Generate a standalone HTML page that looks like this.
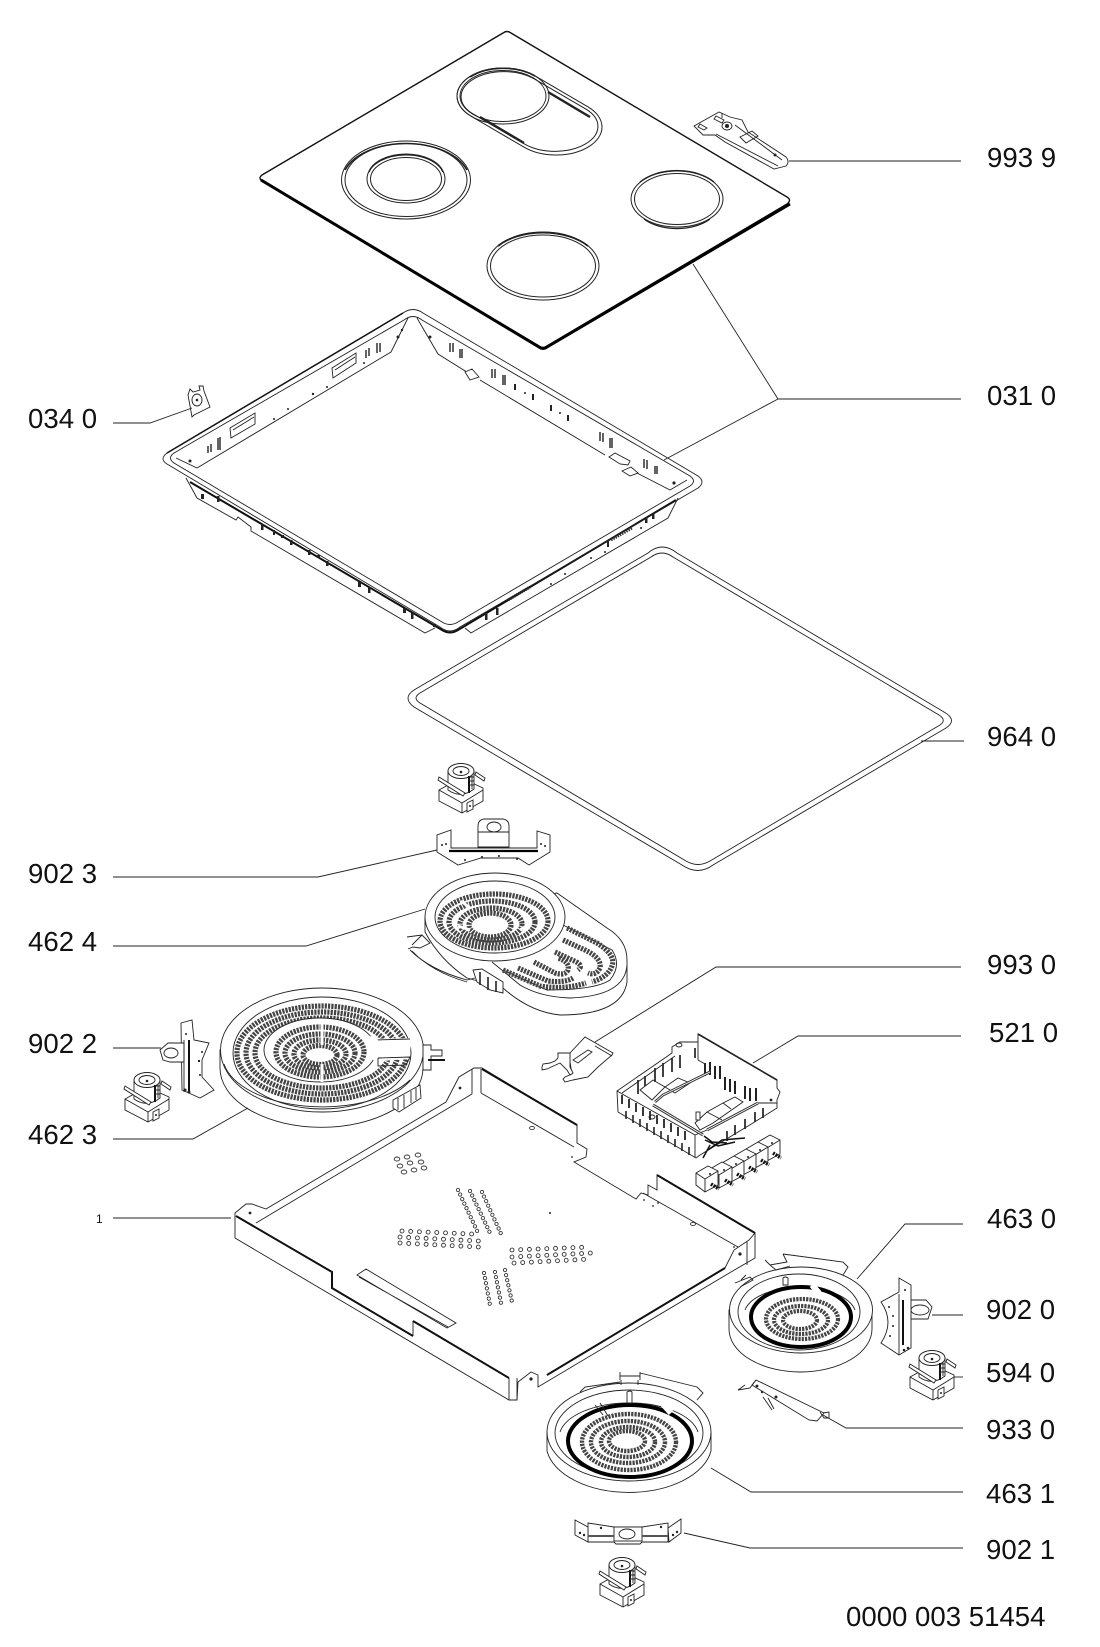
<!DOCTYPE html>
<html><head><meta charset="utf-8"><title>Exploded parts diagram</title>
<style>
html,body{margin:0;padding:0;background:#fff}
svg{display:block}
.l{fill:none;stroke:#222;stroke-width:.9}
.f{fill:#fff;stroke:#222;stroke-width:.9}
.k{fill:none;stroke:#111;stroke-width:2}
.d{fill:#222;stroke:none}
.c{fill:none;stroke:#444;stroke-width:5.2;stroke-dasharray:2.2 1.1}
.h{fill:none;stroke:#333;stroke-width:5;stroke-linecap:round}
.h2{fill:none;stroke:#fff;stroke-width:3;stroke-linecap:round}
.o{fill:#fff;stroke:#333;stroke-width:.9}
text{font-family:"Liberation Sans",Arial,sans-serif;font-size:27.6px;fill:#111}
</style></head><body>
<svg width="1100" height="1647" viewBox="0 0 1100 1647" xmlns="http://www.w3.org/2000/svg">
<defs>
<g id="sw">
<path class="f" d="M0,27 L22,15 L44,25 L44,38 L23,50 L0,38 Z"/>
<path class="l" d="M0,27 L23,40 L44,27 M23,40 V50"/>
<path class="f" d="M9,8 V27 Q22,36 35,26 V8 Z"/>
<ellipse class="f" cx="22" cy="8" rx="13" ry="7.5"/>
<ellipse class="l" cx="22" cy="8" rx="8" ry="4.5"/>
<circle class="d" cx="22" cy="9" r="1.3"/>
<path class="k" d="M30,13 V30"/><path class="l" d="M33,12 V26 M35,14 H30 M35,18 H30 M35,22 H30"/>
<path class="f" d="M0,14 L26,30 L24,33 L-1,17 Z"/>
<path class="f" d="M37,9 L46,15 L45,18 L36,12 Z"/>
<path class="f" d="M28,40 L34,37 V46 L28,49 Z"/><circle class="d" cx="31" cy="43" r="1"/>
</g>
<g id="tb">
<path class="f" d="M0,8 L12,1 L22,6 L22,20 L9,27 L0,20 Z"/>
<path class="l" d="M0,8 L9,14 L22,6 M9,14 V27"/>
<path d="M15,19 L23,24" stroke="#111" stroke-width="3.5" fill="none" stroke-dasharray="2 1"/>
<circle class="d" cx="14" cy="9" r="1"/>
</g>
</defs>

<!-- glass panel -->
<path d="M503,33 Q507,30 511,33 L787,197 Q792,200 787,204 L547,346 Q543,349 539,346 L262,181 Q258,178 262,175 Z" fill="#fff" stroke="#111" stroke-width="1.4"/>
<path d="M261,180 L539,347 Q543,350 547,347 L790,204" fill="none" stroke="#000" stroke-width="3"/>
<!-- rings -->
<g fill="none" stroke="#222">
<ellipse cx="406" cy="180" rx="64.5" ry="39" stroke-width="1"/><ellipse cx="406" cy="180" rx="61" ry="36.5" stroke-width="1"/>
<path d="M345,170 A64,38 0 0 1 467,170" stroke-width="1.6"/>
<ellipse cx="406" cy="179" rx="39" ry="24" stroke-width="1"/><ellipse cx="406" cy="179" rx="35.5" ry="21.5" stroke-width="1"/>
<path d="M369,172 A38,23 0 0 1 443,172" stroke-width="1.6"/>
<path d="M471.1,116.2 A46,28 0 0 1 534.9,75.8 L587.9,106.8 A46,28 0 0 1 524.1,147.2 Z" stroke-width="1"/>
<path d="M472.5,113.6 A43,25 0 0 1 533.5,78.4 L586.5,109.4 A43,25 0 0 1 525.5,144.6 Z" stroke-width="1"/>
<ellipse cx="503" cy="96" rx="46" ry="28" stroke-width="1"/>
<ellipse cx="503" cy="96" rx="43" ry="25.5" stroke-width="1"/>
<path d="M470,77 A46,28 0 0 1 535,76" stroke-width="1.6"/>
<path d="M548,92 L590,117 M480,117 L524,143" stroke-width="2.4"/>
<ellipse cx="677" cy="199" rx="46" ry="28" stroke-width="1"/><ellipse cx="677" cy="199" rx="42.5" ry="25.5" stroke-width="1"/>
<path d="M640,182 A46,28 0 0 1 714,182 M644,219 A42,25 0 0 0 710,219" stroke-width="1.4"/>
<ellipse cx="543" cy="266" rx="56" ry="34" stroke-width="1"/><ellipse cx="543" cy="266" rx="52.5" ry="31" stroke-width="1"/>
<path d="M498,246 A56,33 0 0 1 588,246" stroke-width="1.8"/>
</g>
<!-- clip 993 9 -->
<path class="f" d="M694,126 L719,112 L730,117 L742,120 L748,132 L786,157 Q790,162 786,166 L774,169 L725,142 L715,135 L703,135 Z"/>
<path class="l" d="M716,134 L778,166 M735,125 L782,160 M700,124 L707,128 L704,130 L698,127 Z M716,116 L724,120 L722,123 L714,119 Z M722,113 V118"/>
<ellipse class="l" cx="727" cy="126" rx="5" ry="4"/><circle class="d" cx="727" cy="126" r="2"/>
<path class="l" d="M740,137 L752,131 L758,136 L746,143 Z"/><circle class="d" cx="775" cy="155" r="1.5"/>

<!-- frame skirt -->
<path class="l" d="M186,478 L197,498 L236,520 L238,517 L251,527 L251,531 L425,633 L435,628 M465,628 L471,633 L668,518 L678,498"/>
<path class="k" d="M190,482 L442,630 Q450,635 458,630 L676,500" stroke-width="1.5"/>
<g class="d">
<rect x="201" y="494" width="3" height="5"/><rect x="217" y="496" width="2.5" height="6"/><rect x="261" y="524" width="2.5" height="6"/><rect x="273" y="530" width="2" height="5"/><rect x="281" y="535" width="3" height="3"/><rect x="290" y="540" width="2.5" height="5"/><rect x="308" y="550" width="2.5" height="5"/><rect x="317" y="555" width="3" height="3"/><rect x="326" y="561" width="2.5" height="5"/><rect x="358" y="582" width="3" height="5"/><rect x="368" y="587" width="2.5" height="6"/><rect x="403" y="608" width="3" height="5"/><rect x="411" y="613" width="2.5" height="6"/><rect x="433" y="624" width="3" height="3"/><rect x="485" y="613" width="2.5" height="7"/><rect x="496" y="608" width="2.5" height="7"/>
<rect x="645" y="517" width="2.5" height="6"/><rect x="652" y="513" width="2.5" height="6"/><circle cx="551" cy="584" r="1"/><circle cx="565" cy="574" r="1"/><circle cx="591" cy="558" r="1"/><circle cx="605" cy="552" r="1"/><circle cx="641" cy="528" r="1"/><rect x="607" y="541" width="2" height="6"/>
</g>
<path d="M508,600 L530,587 M611,540 L632,528" fill="none" stroke="#333" stroke-width="3" stroke-dasharray="1.5 1"/>
<!-- frame rim -->
<path class="l" d="M403,313 Q413,306 423,313 L698,476 Q706,482 698,488 L460,627 Q450,635 440,627 L167,464 Q159,459 167,453 Z" stroke-width="1.2"/>
<path class="l" d="M404,320 Q413,313 422,320 L690,476 Q697,481 690,486 L458,622 Q450,627 442,622 L174,463 Q167,458 174,453 Z"/>
<path d="M167,453 L403,313" fill="none" stroke="#111" stroke-width="1.5"/>
<path class="l" d="M176,458 L197,468 L391,352 L408,318 M417,318 L438,354 L470,374 M480,380 L605,455 M635,472 L670,490 L687,480"/>
<path class="l" d="M230,428 L255,413 V424 L231,438 Z M332,368 L356,353 V363 L333,378 Z M233,430 L254,417 M335,370 L355,357"/>
<g class="d">
<circle cx="190" cy="461" r="1.5"/><circle cx="274" cy="419" r="1"/><circle cx="288" cy="409" r="1"/><circle cx="313" cy="394" r="1.2"/><circle cx="327" cy="387" r="1"/><circle cx="364" cy="363" r="1"/><circle cx="398" cy="337" r="1.5"/><circle cx="402" cy="330" r="1.2"/><circle cx="430" cy="337" r="1.5"/><circle cx="525" cy="393" r="1"/><circle cx="560" cy="413" r="1"/><circle cx="674" cy="483" r="1.6"/>
<rect x="514" y="384" width="2" height="6"/><rect x="532" y="394" width="2" height="6"/><rect x="550" y="405" width="2" height="6"/><rect x="567" y="415" width="2" height="6"/>
</g>
<g fill="none" stroke="#222" stroke-width="1.4">
<path d="M208,446 V453 M211,444 V452 M218,438 V450 M220,437 V450"/>
<path d="M366,350 V358 M369,348 V356 M377,343 V353 M380,343 V352"/>
<path d="M450,343 V352 M453,343 V352 M460,349 V358 M462,349 V358"/>
<path d="M492,369 V378 M495,369 V378 M503,375 V385 M505,375 V385"/>
<path d="M600,432 V441 M603,433 V442 M610,438 V448 M612,438 V448"/>
<path d="M644,459 V468 M647,460 V469 M655,466 V474 M657,466 V474"/>
</g>
<path class="f" d="M465,372 L472,369 L479,377 L470,380 Z M609,457 L615,453 L630,461 L628,465 L620,464 Z M622,471 L631,467 L638,473 L630,476 Z"/>
<!-- clip 034 -->
<path class="f" d="M188,395 L190,389 L193,392 L200,390 L199,386 L203,386 L204,391 L210,407 L194,415 L192,417 Z"/><ellipse class="l" cx="197" cy="400" rx="5" ry="6"/><circle class="d" cx="197" cy="400" r="1.3"/>

<!-- seal -->
<path class="l" d="M648,553 Q662,541 677,553 L944,712 Q958,720 946,728 L713,865 Q698,876 682,865 L414,707 Q402,698 414,690 Z"/>
<path class="l" d="M651,557 Q662,549 673,557 L939,715 Q947,720 940,725 L710,861 Q698,868 686,861 L420,703 Q412,698 420,693 Z"/>

<!-- switches -->
<use href="#sw" x="439" y="763"/><use href="#sw" x="125" y="1072"/><use href="#sw" x="910" y="1350"/><use href="#sw" x="600" y="1557"/>

<!-- bracket 902 3 -->
<path class="f" d="M478,847 V826 Q478,820 484,819 H503 Q509,820 509,826 V847 Z"/><ellipse class="l" cx="494" cy="827" rx="7" ry="5"/>
<path class="l" d="M478,832 H509"/>
<path class="f" d="M437,852 L458,865 L481,858 H518 L529,865 L550,852 V835 L537,831 V848 H451 V830 L437,835 Z"/>
<path d="M449,851 H538" stroke="#000" stroke-width="2.2" fill="none"/>
<g class="d"><circle cx="442" cy="845" r="1"/><circle cx="446" cy="844" r="1"/><circle cx="541" cy="844" r="1"/><circle cx="545" cy="846" r="1"/><circle cx="465" cy="860" r="1"/><circle cx="482" cy="857" r="1"/><circle cx="499" cy="856" r="1"/><circle cx="517" cy="859" r="1"/></g>

<!-- heater 462 4 -->
<path class="f" d="M557,893 L607,928 Q627,940 627,960 V982 Q622,1015 560,1015 Q530,1012 503,988 L467,978 Q440,960 425,932 V917 Z"/>
<path class="l" d="M492,962 L520,985 Q540,997 570,998 Q625,996 627,965"/>
<path class="l" d="M563,925 L612,950 Q622,965 610,980 Q595,990 547,990 L503,970"/>
<path class="c" d="M567,928 L597,943 Q616,955 612,966 Q608,977 592,982"/>
<path class="c" d="M563,940 L585,950 Q602,958 600,968 Q596,976 588,973"/>
<path class="c" d="M555,952 L572,960 Q585,965 578,970"/>
<path class="c" d="M503,970 L540,986 Q565,990 586,983"/>
<path class="c" d="M518,968 L548,981 Q565,983 573,978"/>
<path class="c" d="M534,962 L555,973 Q565,976 568,970 Q570,962 558,958"/>
<ellipse class="f" cx="495" cy="917" rx="70" ry="44"/>
<ellipse class="l" cx="495" cy="917" rx="60" ry="36"/>
<ellipse class="c" cx="494" cy="921" rx="54" ry="27"/>
<ellipse class="c" cx="492" cy="922" rx="43" ry="21"/>
<ellipse class="c" cx="491" cy="924" rx="31" ry="16"/>
<ellipse class="c" cx="490" cy="925" rx="21" ry="12"/>
<path d="M461,901 L470,908 M520,930 L528,925 M458,926 L470,930" stroke="#fff" stroke-width="3" fill="none"/>
<path class="l" d="M407,937 L422,935 L430,943 L420,948 L413,947 L408,949 M422,935 L412,945 M410,950 Q430,970 467,980 L475,978 M412,951 Q432,972 467,982"/>
<path class="f" d="M473,970 L482,969 L503,982 V993 L490,990 L477,982 Z"/><path d="M480,972 V985 M488,977 V990 M496,981 V992" fill="none" stroke="#222" stroke-width="1.6"/>

<!-- heater 462 3 + bracket -->
<path class="f" d="M220,1050 V1068 A101,59 0 0 0 423,1068 V1050 Z"/>
<ellipse class="f" cx="322" cy="1050" rx="101.5" ry="62"/>
<ellipse class="l" cx="322" cy="1053" rx="89" ry="56"/>
<path class="l" d="M224,1064 A100,52 0 0 0 410,1080"/>
<ellipse class="c" cx="322" cy="1053" rx="85" ry="47"/>
<ellipse class="c" cx="322" cy="1053" rx="76" ry="41"/>
<ellipse class="c" cx="322" cy="1053" rx="67" ry="35"/>
<path d="M366,1039 L412,1038 L409,1059 L368,1062 Z" fill="#fff" stroke="none"/>
<path class="l" d="M375,1040 L410,1039 M378,1058 L410,1057 L406,1065 L378,1066 Z"/>
<ellipse class="f" cx="320" cy="1050" rx="56" ry="32"/>
<path d="M368,1035 L378,1040 V1058 L368,1062 Z" fill="#fff" stroke="none"/>
<ellipse class="c" cx="320" cy="1052" rx="44" ry="25"/>
<ellipse class="c" cx="320" cy="1053" rx="35" ry="19"/>
<ellipse class="c" cx="320" cy="1054" rx="26" ry="14"/>
<ellipse class="c" cx="320" cy="1055" rx="17" ry="9.5"/>
<path d="M322,1022 V1045 M322,1064 V1082" stroke="#fff" stroke-width="3" fill="none"/>
<path class="f" d="M423,1045 H431 V1050 H442 V1056 H431 V1070 H423 Z"/><path class="k" d="M428,1060 H445" stroke-width="1.2"/>
<path class="f" d="M393,1100 L420,1085 L421,1098 L399,1112 L393,1108 Z"/>
<path class="l" d="M398,1098 V1110 M404,1095 V1108 M411,1091 V1103 M416,1088 V1100" stroke-width="1.8"/>
<path class="f" d="M181,1023 L192,1020 L194,1040 L209,1043 L202,1060 L202,1077 L214,1090 L200,1098 L182,1090 Z"/>
<path class="f" d="M184,1043 H168 L160,1050 L163,1060 L170,1062 H184 Z"/><ellipse class="l" cx="171" cy="1053" rx="7" ry="5"/>
<path class="k" d="M189,1040 V1092" stroke-width="1.5"/><path class="l" d="M184,1040 V1092"/>
<g class="d"><circle cx="186" cy="1034" r="1"/><circle cx="202" cy="1052" r="1"/><rect x="198" y="1060" width="2" height="2"/><circle cx="200" cy="1075" r="1"/><circle cx="185" cy="1090" r="1.5"/><circle cx="189" cy="1092" r="1.5"/></g>

<!-- tray -->
<path class="f" d="M474,1068 L482,1068 L577,1125 V1143 L587,1149 L586,1157 L574,1162 L636,1199 L641,1193 L648,1195 V1185 L657,1190 V1175 L755,1233 V1258 L731,1272 L538,1387 V1375 L531,1372 L518,1382 L517,1400 L509,1400 L235,1238 V1213 L246,1204 L252,1204 L266,1209 L446,1102 L459,1077 Z"/>
<path class="l" d="M472,1094 L256,1223 M481,1093 L574,1147 M643,1193 L738,1247 M547,1375 L725,1268 L734,1250 L749,1240 L755,1233 M509,1378 V1400 M517,1378 V1400 M472,1069 V1094 M481,1069 V1093 M747,1242 V1265"/>
<path class="l" d="M413,1336 V1321 M332,1272 V1288 L413,1336"/>
<path class="k" d="M236,1216 L332,1272 V1288 L413,1336 M413,1321 L509,1378 M482,1069 L577,1125 M657,1175 L755,1233" stroke-width="1.2"/>
<path class="k" d="M547,1375 L725,1268" stroke-width="1"/>
<path class="l" d="M357,1275 L366,1269 L456,1323 L447,1328 Z M359,1277 L448,1327"/>
<!-- holes -->
<g><ellipse class="o" cx="397" cy="1159" rx="2.8" ry="2"/><ellipse class="o" cx="407" cy="1157" rx="2.8" ry="2"/><ellipse class="o" cx="418" cy="1155" rx="2.8" ry="2"/><ellipse class="o" cx="400" cy="1166" rx="2.8" ry="2"/><ellipse class="o" cx="410" cy="1163" rx="2.8" ry="2"/><ellipse class="o" cx="421" cy="1162" rx="2.8" ry="2"/><ellipse class="o" cx="404" cy="1172" rx="2.8" ry="2"/><ellipse class="o" cx="414" cy="1170" rx="2.8" ry="2"/><ellipse class="o" cx="424" cy="1168" rx="2.8" ry="2"/></g>
<path class="h" stroke-dasharray="0.01 5" style="stroke-width:4.2" d="M458,1190 L479,1235 M470,1191 L491,1235 M482,1192 L502,1236"/>
<path class="h2" stroke-dasharray="0.01 5" style="stroke-width:2.4" d="M458,1190 L479,1235 M470,1191 L491,1235 M482,1192 L502,1236"/>
<path class="h" stroke-dasharray="0.01 8.7" style="stroke-width:4.8" d="M402,1231 L472,1234 M400,1237 L479,1241 M400,1243 L479,1247 M512,1250 L590,1247 M512,1257 L591,1253 M514,1263 L591,1259"/>
<path class="h2" stroke-dasharray="0.01 8.7" style="stroke-width:3" d="M402,1231 L472,1234 M400,1237 L479,1241 M400,1243 L479,1247 M512,1250 L590,1247 M512,1257 L591,1253 M514,1263 L591,1259"/>
<path class="h" stroke-dasharray="0.01 5.2" style="stroke-width:4.2" d="M484,1273 L490,1305 M495,1272 L501,1303 M505,1270 L512,1302"/>
<path class="h2" stroke-dasharray="0.01 5.2" style="stroke-width:2.4" d="M484,1273 L490,1305 M495,1272 L501,1303 M505,1270 L512,1302"/>
<ellipse class="o" cx="532" cy="1128" rx="2.5" ry="1.6"/><ellipse class="o" cx="693" cy="1224" rx="2.5" ry="1.6"/>
<g class="d"><circle cx="550" cy="1213" r="1"/><circle cx="644" cy="1200" r=".9"/><circle cx="653" cy="1206" r=".9"/><circle cx="658" cy="1203" r=".9"/><circle cx="572" cy="1157" r=".9"/><circle cx="734" cy="1247" r=".9"/><circle cx="250" cy="1213" r="1.4"/><circle cx="460" cy="1088" r="1.4"/><circle cx="531" cy="1379" r="1.6"/><circle cx="740" cy="1254" r="1.6"/></g>

<!-- bracket 993 0 -->
<path class="f" d="M570,1053 L585,1037 L613,1053 L612,1055 L598,1067 L588,1077 L573,1080 L565,1082 L563,1079 L565,1077 L572,1074 L570,1062 Z"/>
<path class="f" d="M542,1067 L543,1064 L550,1063 L555,1061 L558,1058 V1053 H570 V1067 L573,1073 L570,1075 L567,1070 L560,1063 L547,1069 L542,1070 Z"/>
<path class="l" d="M573,1060 L588,1050 L592,1052 L578,1063 Z M595,1046 L612,1056"/>

<!-- control box -->
<path class="f" d="M617,1091 L672,1053 L672,1047 L680,1042 H698 V1034 L777,1080 V1088 L780,1092 L777,1100 V1108 L753,1123 L700,1155 L696,1158 L618,1112 Z"/>
<path d="M698,1034 L777,1080" stroke="#222" stroke-width="1.6" fill="none"/>
<path class="l" d="M617,1091 L695,1135 L707,1130 L758,1103 L777,1103 M695,1135 V1158 M622,1093 L675,1056 M698,1042 V1060 L705,1064"/>
<path class="f" d="M640,1090 L653,1080 L665,1087 L652,1100 Z"/><path class="f" d="M665,1087 L678,1078 L690,1083 L675,1093 Z"/>
<path class="f" d="M695,1123 L707,1112 L723,1103 L735,1097 L743,1102 L713,1123 L700,1130 Z"/><path class="l" d="M707,1112 L722,1120 M723,1103 L731,1109"/>
<rect class="f" x="696" y="1112" width="4" height="8"/>
<path d="M622,1095v9M629,1099v9M636,1103v9M643,1107v9M650,1111v9M657,1115v9M664,1119v9M671,1123v9M678,1127v9M685,1131v9" stroke="#222" stroke-width="1.8" fill="none"/>
<path d="M626,1111v8M633,1115v8M640,1119v8M647,1123v8M654,1127v8M661,1131v8M668,1135v8M675,1139v8M682,1143v8M689,1147v8" stroke="#222" stroke-width="1.6" fill="none"/>
<path d="M638,1080v14M655,1068v14M663,1063v14M672,1058v14M680,1055v13M695,1048v10M645,1076v10" stroke="#222" stroke-width="1.7" fill="none"/>
<path d="M705,1063v13M710,1062v13M715,1066v13M720,1066v13M725,1077v13M730,1079v13M735,1081v13M745,1086v13M750,1088v13M756,1088v13" stroke="#222" stroke-width="2" fill="none"/>
<path d="M727,1131v10M735,1125v10M745,1119v10M755,1112v10M763,1108v10" stroke="#222" stroke-width="1.7" fill="none"/>
<path d="M655,1102 L663,1095 L710,1072 M653,1105 L703,1135 M707,1130 L758,1103" fill="none" stroke="#333" stroke-width="2.8"/>
<path d="M655,1102 L663,1095 L710,1072 M653,1105 L703,1135 M707,1130 L758,1103" fill="none" stroke="#fff" stroke-width=".8"/>
<path d="M704,1136 L712,1142 L727,1143 M708,1150 L722,1140 L745,1138 M710,1145 L703,1158 M705,1140 L718,1146 L735,1142" fill="none" stroke="#111" stroke-width="1.5"/>
<ellipse class="l" cx="652" cy="1117" rx="3" ry="2"/><ellipse class="l" cx="679" cy="1045" rx="3" ry="2"/><circle class="d" cx="771" cy="1100" r="1.4"/>
<use href="#tb" x="758" y="1134"/><use href="#tb" x="746" y="1141"/><use href="#tb" x="734" y="1148"/><use href="#tb" x="722" y="1155"/><use href="#tb" x="710" y="1161"/><use href="#tb" x="696" y="1165"/>

<!-- heater 463 0 -->
<path class="f" d="M729,1310 V1329 A71.5,43 0 0 0 872,1329 V1310 Z"/>
<ellipse class="f" cx="801" cy="1310" rx="71.5" ry="43"/>
<ellipse class="l" cx="799" cy="1312" rx="61" ry="38"/>
<path class="l" d="M745,1310 A56,28 0 0 1 855,1310"/>
<ellipse cx="801" cy="1317" rx="50" ry="30" fill="none" stroke="#000" stroke-width="4"/>
<ellipse class="c" cx="802" cy="1319" rx="36" ry="20" style="stroke-width:4.2"/>
<ellipse class="c" cx="801" cy="1320" rx="27" ry="14" style="stroke-width:4.2"/>
<ellipse class="c" cx="800" cy="1320" rx="17" ry="9" style="stroke-width:4.2"/>
<path d="M812,1285 L819,1293" stroke="#fff" stroke-width="6" fill="none"/>
<path class="f" d="M783,1285 V1278 Q785,1276 788,1278 V1285 Z"/>
<path class="l" d="M765,1260 L770,1265 L787,1262 L783,1254 M770,1265 L776,1270 L790,1266 M783,1254 L843,1262 L848,1267 L843,1275 M735,1283 L750,1277 L753,1280 L740,1287 M741,1280 L746,1275"/>

<!-- heater 463 1 -->
<path class="f" d="M547,1432 V1451 A83,49 0 0 0 711,1451 V1432 Z"/>
<ellipse class="f" cx="629" cy="1432" rx="82" ry="49"/>
<ellipse class="l" cx="629" cy="1433" rx="74" ry="43"/>
<path class="l" d="M560,1432 A70,35 0 0 1 698,1432"/>
<ellipse cx="630" cy="1441" rx="62" ry="36" fill="none" stroke="#000" stroke-width="4"/>
<ellipse class="c" cx="629" cy="1442" rx="47" ry="28" style="stroke-width:4.4"/>
<ellipse class="c" cx="628" cy="1442" rx="37" ry="21" style="stroke-width:4.4"/>
<ellipse class="c" cx="628" cy="1442" rx="27" ry="15" style="stroke-width:4.4"/>
<ellipse class="c" cx="627" cy="1441" rx="18" ry="10" style="stroke-width:4.4"/>
<path d="M663,1404 L671,1413" stroke="#fff" stroke-width="6" fill="none"/>
<path d="M595,1405 L603,1415 M600,1403 L608,1416" stroke="#222" stroke-width=".9" fill="none"/>
<path class="f" d="M627,1403 V1392 Q630,1390 632,1392 V1403 Z"/>
<path class="l" d="M620,1372 V1380 M640,1372 V1380 M620,1376 H640 M621,1380 V1385 M638,1380 V1385 M640,1373 L697,1387 L703,1393 L697,1400 M580,1392 L585,1387 L620,1382"/>

<!-- bracket 902 0 -->
<path class="f" d="M909,1300 H926 L932,1307 L928,1319 H909 Z"/><ellipse class="l" cx="920" cy="1310" rx="9" ry="5"/>
<path class="f" d="M881,1302 L899,1292 V1278 L911,1285 V1348 L899,1355 L881,1343 Q895,1322 881,1302 Z"/>
<path class="k" d="M903,1300 V1345" stroke-width="1.2"/><path class="l" d="M899,1294 V1355"/>
<g class="d"><circle cx="905" cy="1290" r="1"/><circle cx="889" cy="1307" r="1"/><circle cx="893" cy="1316" r="1"/><circle cx="893" cy="1326" r="1"/><circle cx="890" cy="1336" r="1"/><circle cx="904" cy="1350" r="1.3"/><circle cx="908" cy="1348" r="1.3"/></g>

<!-- bracket 933 0 -->
<path class="f" d="M756,1380 L824,1413 L817,1421 L809,1420 L752,1385 Z"/>
<path class="l" d="M738,1390 L750,1388 L756,1380 M745,1385 L738,1390 M763,1397 L772,1410 M768,1398 L774,1409 M820,1412 L824,1418 H829 V1412 L823,1413"/>
<g class="d"><circle cx="757" cy="1386" r="1.4"/><circle cx="776" cy="1397" r="1.5"/><circle cx="762" cy="1392" r="1.2"/></g>

<!-- bracket 902 1 -->
<path class="f" d="M588,1523 L614,1527 H642 L668,1523 L668,1542 H642 L640,1544 H616 L614,1542 H588 Z"/>
<path class="f" d="M575,1520 L588,1527 V1542 L575,1535 Z M668,1528 L681,1519 V1533 L669,1542 Z"/>
<rect class="f" x="614" y="1527" width="28" height="14"/><ellipse class="l" cx="627" cy="1534" rx="8" ry="5"/>
<path d="M588,1536 H614 M642,1536 H668" stroke="#555" stroke-width="2" fill="none"/>
<g class="d"><circle cx="580" cy="1533" r="1.2"/><circle cx="584" cy="1535" r="1.2"/><circle cx="673" cy="1535" r="1.2"/><circle cx="677" cy="1532" r="1.2"/><circle cx="601" cy="1528" r="1.2"/><circle cx="661" cy="1527" r="1.2"/></g>

<!-- leaders -->
<g class="l">
<path d="M789,161 H961"/>
<path d="M693,264 L778,399 H961 M664,460 L778,399"/>
<path d="M113,423 H150 L192,408"/>
<path d="M921,741 H964"/>
<path d="M113,877 H318 L437,850"/>
<path d="M113,946 H306 L425,909"/>
<path d="M113,1048 H161"/>
<path d="M113,1139 H193 L248,1108"/>
<path d="M961,967 H716 L595,1042"/>
<path d="M961,1036 H798 L753,1063"/>
<path d="M963,1224 H905 L857,1279"/>
<path d="M963,1315 H932"/>
<path d="M963,1377 H954"/>
<path d="M963,1428 H846 L823,1415"/>
<path d="M963,1492 H751 L711,1468"/>
<path d="M963,1548 H750 L684,1533"/>
<path d="M113,1218 H231"/>
</g>

<!-- labels -->
<text x="987" y="167">993 9</text>
<text x="987" y="405">031 0</text>
<text x="28" y="428">034 0</text>
<text x="987" y="746">964 0</text>
<text x="28" y="883">902 3</text>
<text x="28" y="951">462 4</text>
<text x="987" y="974">993 0</text>
<text x="989" y="1042">521 0</text>
<text x="28" y="1053">902 2</text>
<text x="28" y="1144">462 3</text>
<text x="96" y="1223" style="font-size:12px">1</text>
<text x="987" y="1228">463 0</text>
<text x="986" y="1319">902 0</text>
<text x="986" y="1382">594 0</text>
<text x="986" y="1439">933 0</text>
<text x="986" y="1503">463 1</text>
<text x="986" y="1559">902 1</text>
<text x="846" y="1626">0000 003 51454</text>
</svg>
</body></html>
